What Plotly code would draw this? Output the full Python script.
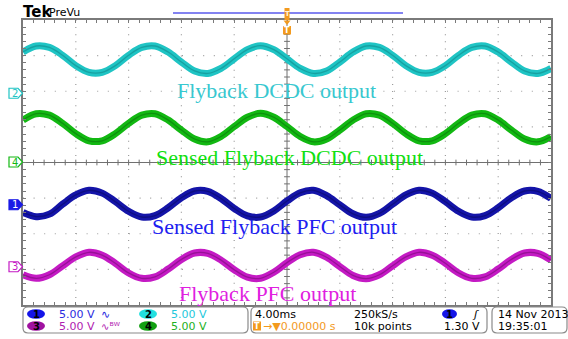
import plotly.graph_objects as go

# ---------------- data (read from the screen capture) ----------------
# time axis: 4.00 ms/div, 10 divisions, trigger at centre -> -20..20 ms
t_ms = list(range(-20, 21))
# vertical values in graticule divisions (centre line = 0)
ch2_flyback_dcdc = [3.10, 3.27, 3.23, 3.01, 2.72, 2.53, 2.53, 2.72, 3.01, 3.23, 3.27,
                    3.10, 2.82, 2.57, 2.50, 2.64, 2.91, 3.17, 3.28, 3.17, 2.91,
                    2.64, 2.50, 2.57, 2.82, 3.10, 3.27, 3.23, 3.01, 2.72, 2.53,
                    2.53, 2.72, 3.01, 3.23, 3.27, 3.10, 2.82, 2.57, 2.50, 2.64]
ch4_sensed_dcdc = [1.19, 1.37, 1.33, 1.10, 0.81, 0.61, 0.61, 0.81, 1.10, 1.33, 1.37,
                   1.19, 0.91, 0.66, 0.58, 0.73, 1.01, 1.27, 1.38, 1.27, 1.01,
                   0.73, 0.58, 0.66, 0.91, 1.19, 1.37, 1.33, 1.10, 0.81, 0.61,
                   0.61, 0.81, 1.10, 1.33, 1.37, 1.19, 0.91, 0.66, 0.58, 0.73]
ch1_sensed_pfc = [-1.40, -1.52, -1.45, -1.17, -0.91, -0.78, -0.86, -1.10, -1.37, -1.53, -1.49,
                  -1.27, -0.99, -0.80, -0.81, -1.01, -1.29, -1.50, -1.53, -1.36, -1.08,
                  -0.85, -0.78, -0.93, -1.19, -1.44, -1.54, -1.43, -1.17, -0.91, -0.78,
                  -0.86, -1.10, -1.37, -1.53, -1.49, -1.27, -0.99, -0.80, -0.81, -1.01]
ch3_flyback_pfc = [-3.15, -3.25, -3.15, -2.90, -2.65, -2.52, -2.60, -2.83, -3.10, -3.25, -3.21,
                   -2.99, -2.72, -2.54, -2.55, -2.74, -3.01, -3.22, -3.25, -3.08, -2.81,
                   -2.59, -2.52, -2.66, -2.92, -3.17, -3.26, -3.15, -2.90, -2.65, -2.52,
                   -2.60, -2.83, -3.10, -3.25, -3.21, -2.99, -2.72, -2.54, -2.55, -2.74]

trace_labels = ["Flyback DCDC output", "Sensed Flyback DCDC output",
                "Sensed Flyback PFC output", "Flyback PFC output"]
ref_levels = {"2": 1.93, "4": 0.0, "1": -1.20, "3": -2.94}
ch_scale = ["5.00 V", "5.00 V", "5.00 V", "5.00 V"]
timebase = "4.00ms"
sample_rate = "250kS/s"
record_len = "10k points"
trig_delay = "0.00000 s"
trig_level = "1.30 V"
date_str = "14 Nov 2013"
time_str = "19:35:01"

# ---------------- geometry helpers ----------------
W, H = 568, 339
L, R, T, B = 23, 551, 20, 305


def px(x):
    return (x - L) / (R - L)


def py(y):
    return (B - y) / (B - T)


C_CYAN = "#1fc4c4"
C_GREEN = "#12b812"
C_BLUE = "#1414a8"
C_MAG = "#c41ac4"
ORANGE = "#f39a1e"

fig = go.Figure()

series = [
    (ch2_flyback_dcdc, C_CYAN, "#0f7f80"),
    (ch4_sensed_dcdc, C_GREEN, "#0b6a0b"),
    (ch1_sensed_pfc, C_BLUE, "#08085a"),
    (ch3_flyback_pfc, C_MAG, "#6a0a6a"),
]
for vals, col, dark in series:
    fig.add_trace(go.Scatter(x=t_ms, y=vals, mode="lines", hoverinfo="skip",
                             line=dict(color=col, width=7, shape="spline", smoothing=1.0)))
    fig.add_trace(go.Scatter(x=t_ms, y=vals, mode="lines", hoverinfo="skip", opacity=0.5,
                             line=dict(color=dark, width=1.3, shape="spline", smoothing=1.0)))

shapes = []
GRID = "#9c9c9c"
# dotted graticule
for xv in range(-16, 20, 4):
    if xv != 0:
        shapes.append(dict(type="line", xref="x", yref="y", x0=xv, x1=xv, y0=-4, y1=4,
                           line=dict(color=GRID, width=1.2, dash="1px,6.1px"), layer="below"))
for yv in range(-3, 4):
    if yv != 0:
        shapes.append(dict(type="line", xref="x", yref="y", x0=-20, x1=20, y0=yv, y1=yv,
                           line=dict(color=GRID, width=1.2, dash="1px,9.6px"), layer="below"))
# centre cross with minor ticks
shapes.append(dict(type="line", xref="x", yref="y", x0=0, x1=0, y0=-4, y1=4,
                   line=dict(color="#707070", width=1), layer="below"))
shapes.append(dict(type="line", xref="x", yref="y", x0=-20, x1=20, y0=0, y1=0,
                   line=dict(color="#707070", width=1), layer="below"))
for i in range(-24, 25):
    xv = i * 0.8
    shapes.append(dict(type="line", xref="x", yref="y", x0=xv, x1=xv, y0=-0.08, y1=0.08,
                       line=dict(color="#707070", width=1), layer="below"))
for i in range(-19, 20):
    yv = i * 0.2
    shapes.append(dict(type="line", xref="x", yref="y", x0=-0.22, x1=0.22, y0=yv, y1=yv,
                       line=dict(color="#707070", width=1), layer="below"))

# record view bar and trigger markers at top
shapes.append(dict(type="line", xref="paper", yref="paper", x0=px(173), x1=px(403),
                   y0=py(13), y1=py(13), line=dict(color="#5a5aec", width=1.5)))
shapes.append(dict(type="rect", xref="paper", yref="paper", x0=px(284.5), x1=px(289.5),
                   y0=py(8), y1=py(20), fillcolor=ORANGE, line=dict(width=0)))
shapes.append(dict(type="path", xref="paper", yref="paper",
                   path=f"M {px(283.5)},{py(20.5)} L {px(290.5)},{py(20.5)} L {px(287)},{py(25)} Z",
                   fillcolor=ORANGE, line=dict(width=0)))
shapes.append(dict(type="rect", xref="paper", yref="paper", x0=px(283), x1=px(291),
                   y0=py(26), y1=py(34.5), fillcolor=ORANGE, line=dict(width=0)))

annotations = []


def txt(x, y, s, color="black", size=11, anchor="left", family="DejaVu Sans", **kw):
    annotations.append(dict(x=px(x), y=py(y), xref="paper", yref="paper", text=s,
                            showarrow=False, xanchor=anchor, yanchor="middle",
                            font=dict(family=family, size=size, color=color), **kw))


txt(287, 30, "<b>T</b>", color="white", size=8, anchor="center")
txt(287, 14, "<b>T</b>", color="#fff2d8", size=7, anchor="center")

# Tek PreVu
txt(21, 12, "<b>Tek</b>", size=15, family="DejaVu Sans")
txt(47, 13, "PreVu", size=11)

# channel reference markers on the left
markers = [("2", C_CYAN, False), ("4", C_GREEN, False), ("1", "#1a1ae6", True), ("3", C_MAG, False)]
for ch, col, filled in markers:
    yc = 162 - ref_levels[ch] * (B - T) / 8
    shapes.append(dict(type="path", xref="paper", yref="paper",
                       path=(f"M {px(9)},{py(yc-5)} L {px(18)},{py(yc-5)} L {px(22.5)},{py(yc)} "
                             f"L {px(18)},{py(yc+5)} L {px(9)},{py(yc+5)} Z"),
                       fillcolor=col if filled else "white", line=dict(color=col, width=1.2)))
    txt(14.5, yc, ch, color="white" if filled else col, size=10, anchor="center")

# trace captions
caps = [(276, 90, trace_labels[0], "#38c8d0"), (289, 157, trace_labels[1], "#10e010"),
        (274, 226, trace_labels[2], "#2020f0"), (267, 293, trace_labels[3], "#e020e0")]
for x, y, s, c in caps:
    txt(x, y, s, color=c, size=22, anchor="center", family="Liberation Serif")


# status bar boxes
def rrect(x0, y0, x1, y1, r=5):
    p = (f"M {px(x0+r)},{py(y0)} L {px(x1-r)},{py(y0)} Q {px(x1)},{py(y0)} {px(x1)},{py(y0+r)} "
         f"L {px(x1)},{py(y1-r)} Q {px(x1)},{py(y1)} {px(x1-r)},{py(y1)} "
         f"L {px(x0+r)},{py(y1)} Q {px(x0)},{py(y1)} {px(x0)},{py(y1-r)} "
         f"L {px(x0)},{py(y0+r)} Q {px(x0)},{py(y0)} {px(x0+r)},{py(y0)} Z")
    return dict(type="path", xref="paper", yref="paper", path=p,
                line=dict(color="#8a8a8a", width=1.2), fillcolor="rgba(0,0,0,0)")


shapes.append(rrect(23, 307, 248, 333))
shapes.append(rrect(251, 307, 487, 333))
shapes.append(rrect(492, 307, 567, 333))

R1, R2 = 314, 326


def pill(x0, x1, yc, fill, label, tcol="black"):
    shapes.append(dict(type="circle", xref="paper", yref="paper", x0=px(x0), x1=px(x1),
                       y0=py(yc - 4.8), y1=py(yc + 4.8), fillcolor=fill, line=dict(width=0)))
    txt((x0 + x1) / 2, yc, "<b>" + label + "</b>", color=tcol, size=10, anchor="center")


pill(27, 45, R1, "#1414e8", "1")
txt(57, R1, ch_scale[0], color="#2a2ae0")
txt(99, R1, "∿", color="#2a2ae0", size=11)
pill(139, 157, R1, "#22e0e0", "2")
txt(169, R1, ch_scale[1], color="#22c8dc")
pill(27, 45, R2, "#a012a0", "3")
txt(57, R2, ch_scale[2], color="#b020b0")
txt(99, R2, "∿ᴮᵂ", color="#b020b0", size=10)
pill(139, 157, R2, "#12a012", "4")
txt(169, R2, ch_scale[3], color="#22b022")

txt(253, R1, timebase)
txt(352, R1, sample_rate)
pill(442, 457, R1, "#1414e8", "1")
txt(470, R1, "<i>ʃ</i>", size=11)
shapes.append(dict(type="rect", xref="paper", yref="paper", x0=px(253), x1=px(261),
                   y0=py(R2 - 4.5), y1=py(R2 + 4.5), fillcolor=ORANGE, line=dict(width=0)))
txt(257, R2, "<b>T</b>", color="white", size=8, anchor="center")
txt(261, R2, "→▼" + trig_delay, color=ORANGE, size=11)
txt(352, R2, record_len)
txt(482, R2, trig_level, anchor="right")
txt(496, R1, date_str)
txt(496, R2, time_str)

fig.update_layout(
    width=W, height=H, margin=dict(l=L, r=W - R, t=T, b=H - B, pad=0),
    paper_bgcolor="white", plot_bgcolor="white", showlegend=False,
    shapes=shapes, annotations=annotations,
    xaxis=dict(range=[-20, 20], showgrid=False, zeroline=False, showline=True, mirror="ticks",
               linecolor="#7a7a7a", linewidth=1.5, ticks="inside", tick0=0, dtick=0.8, ticklen=3,
               tickcolor="#7a7a7a", showticklabels=False, fixedrange=True),
    yaxis=dict(range=[-4, 4], showgrid=False, zeroline=False, showline=True, mirror="ticks",
               linecolor="#7a7a7a", linewidth=1.5, ticks="inside", tick0=0, dtick=0.2, ticklen=3,
               tickcolor="#7a7a7a", showticklabels=False, fixedrange=True),
)

fig.write_html("out.html", config={"displayModeBar": False},
               post_script="document.body.style.margin='0';document.body.style.overflow='hidden';")
